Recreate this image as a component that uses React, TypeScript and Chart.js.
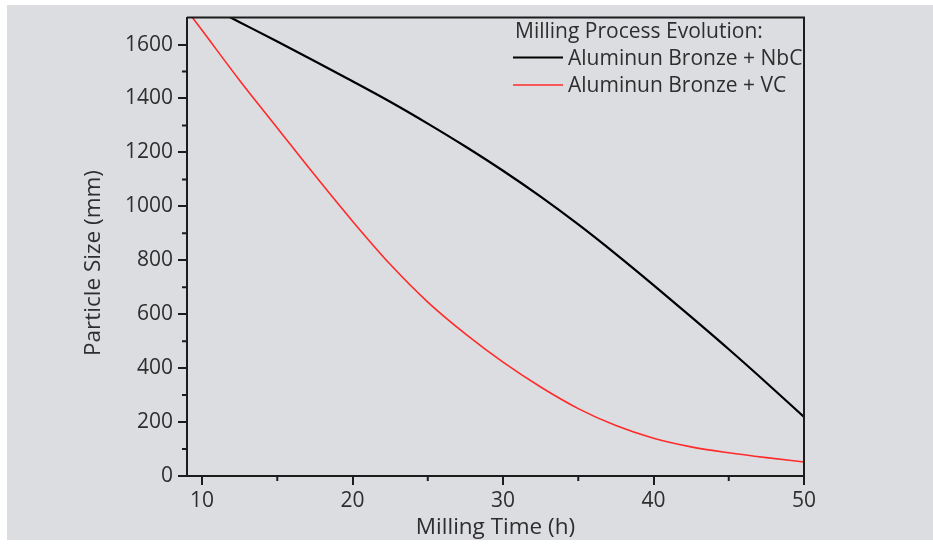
import React, { useEffect, useRef } from 'react';
import { Chart, registerables } from 'chart.js';

Chart.register(...registerables);

// ---- data ----
const hours = [9, 10, 12.5, 15, 17.5, 20, 22.5, 25, 27.5, 30, 32.5, 35, 37.5, 40, 42.5, 45, 47.5, 50];
const nbcSize = [null, 1755, 1683, 1611, 1538, 1464, 1388, 1307, 1222, 1132, 1036, 933, 823, 708, 590, 470, 346, 219];
const vcSize = [1727, 1653, 1467, 1291, 1115, 945, 785, 645, 527, 422, 330, 250, 187, 140, 108, 86, 68, 52];

const xTicks = [10, 20, 30, 40, 50];
const xMinorTicks = [15, 25, 35, 45];
const yTicks = [0, 200, 400, 600, 800, 1000, 1200, 1400, 1600];
const yMinorTicks = [100, 300, 500, 700, 900, 1100, 1300, 1500];

const seriesLabels = ['Aluminun Bronze + NbC', 'Aluminun Bronze + VC'];
const seriesColors = ['#000000', '#ff2a2a'];
const legendTitle = 'Milling Process Evolution:';
const xTitle = 'Milling Time (h)';
const yTitle = 'Particle Size (mm)';

const FONT = '"Open Sans", sans-serif';
const TEXT = '#2e2e2e';
const AXIS = '#1c1c1c';

export default function App() {
  const ref = useRef<HTMLCanvasElement | null>(null);

  useEffect(() => {
    if (!ref.current) return;

    const decor = {
      id: 'decor',
      afterDraw(chart: any) {
        const { ctx, chartArea: a, scales } = chart;
        const x = scales.x;
        const y = scales.y;
        ctx.save();
        ctx.strokeStyle = AXIS;
        ctx.lineWidth = 2;
        ctx.beginPath();
        ctx.moveTo(a.left, a.top);
        ctx.lineTo(a.right, a.top);
        ctx.lineTo(a.right, a.bottom);
        ctx.stroke();

        ctx.beginPath();
        for (const v of xMinorTicks) {
          const px = x.getPixelForValue(v);
          ctx.moveTo(px, a.bottom);
          ctx.lineTo(px, a.bottom + 5);
        }
        for (const v of yMinorTicks) {
          const py = y.getPixelForValue(v);
          ctx.moveTo(a.left, py);
          ctx.lineTo(a.left - 5, py);
        }
        ctx.stroke();

        ctx.fillStyle = TEXT;
        ctx.font = `22.5px ${FONT}`;
        ctx.textAlign = 'center';
        ctx.textBaseline = 'alphabetic';
        ctx.fillText(xTitle, (a.left + a.right) / 2, 534);

        ctx.save();
        ctx.translate(100, 263);
        ctx.rotate(-Math.PI / 2);
        ctx.fillText(yTitle, 0, 0);
        ctx.restore();

        // legend
        ctx.font = `21px ${FONT}`;
        ctx.textAlign = 'left';
        ctx.fillText(legendTitle, 515, 38);
        const rows = [64.5, 92];
        seriesLabels.forEach((lbl, i) => {
          ctx.strokeStyle = seriesColors[i];
          ctx.lineWidth = i === 0 ? 2 : 1.6;
          ctx.beginPath();
          ctx.moveTo(513, rows[i] - 7);
          ctx.lineTo(563, rows[i] - 7);
          ctx.stroke();
          ctx.fillStyle = TEXT;
          ctx.fillText(lbl, 568, rows[i]);
        });
        ctx.restore();
      },
    };

    const chart = new Chart(ref.current, {
      type: 'line',
      data: {
        datasets: [
          {
            label: seriesLabels[0],
            data: hours.map((h, i) => ({ x: h, y: nbcSize[i] })),
            borderColor: seriesColors[0],
            borderWidth: 2.2,
            pointRadius: 0,
            cubicInterpolationMode: 'monotone',
            fill: false,
          },
          {
            label: seriesLabels[1],
            data: hours.map((h, i) => ({ x: h, y: vcSize[i] })),
            borderColor: seriesColors[1],
            borderWidth: 1.6,
            pointRadius: 0,
            cubicInterpolationMode: 'monotone',
            fill: false,
          },
        ],
      },
      options: {
        responsive: false,
        animation: false,
        layout: { padding: { left: 0, right: 129, top: 17, bottom: 0 } },
        plugins: {
          legend: { display: false },
          tooltip: { enabled: false },
          title: { display: false },
        },
        scales: {
          x: {
            type: 'linear',
            min: 9,
            max: 50,
            afterBuildTicks: (s: any) => {
              s.ticks = xTicks.map((v) => ({ value: v }));
            },
            afterFit: (s: any) => {
              s.height = 69;
            },
            grid: {
              display: true,
              drawOnChartArea: false,
              drawTicks: true,
              tickLength: 9,
              color: AXIS,
              lineWidth: 2,
            },
            border: { display: true, color: AXIS, width: 2 },
            ticks: {
              autoSkip: false,
              maxRotation: 0,
              padding: 3,
              color: TEXT,
              font: { family: FONT, size: 21 },
              callback: (v: any) => String(v),
            },
          },
          y: {
            type: 'linear',
            min: 0,
            max: 1700,
            afterBuildTicks: (s: any) => {
              s.ticks = yTicks.map((v) => ({ value: v }));
            },
            afterFit: (s: any) => {
              s.width = 187;
            },
            grid: {
              display: true,
              drawOnChartArea: false,
              drawTicks: true,
              tickLength: 9,
              color: AXIS,
              lineWidth: 2,
            },
            border: { display: true, color: AXIS, width: 2 },
            ticks: {
              autoSkip: false,
              padding: 5,
              color: TEXT,
              font: { family: FONT, size: 21 },
              callback: (v: any) => String(v),
            },
          },
        },
      },
      plugins: [decor],
    } as any);

    return () => chart.destroy();
  }, []);

  return (
    <div style={{ position: 'absolute', left: 0, top: 0, width: 933, height: 545, background: '#ffffff' }}>
      <div style={{ position: 'absolute', left: 7, top: 5, width: 926, height: 535, background: '#dcdde0' }} />
      <canvas ref={ref} width={933} height={545} style={{ position: 'absolute', left: 0, top: 0, width: 933, height: 545 }} />
    </div>
  );
}
